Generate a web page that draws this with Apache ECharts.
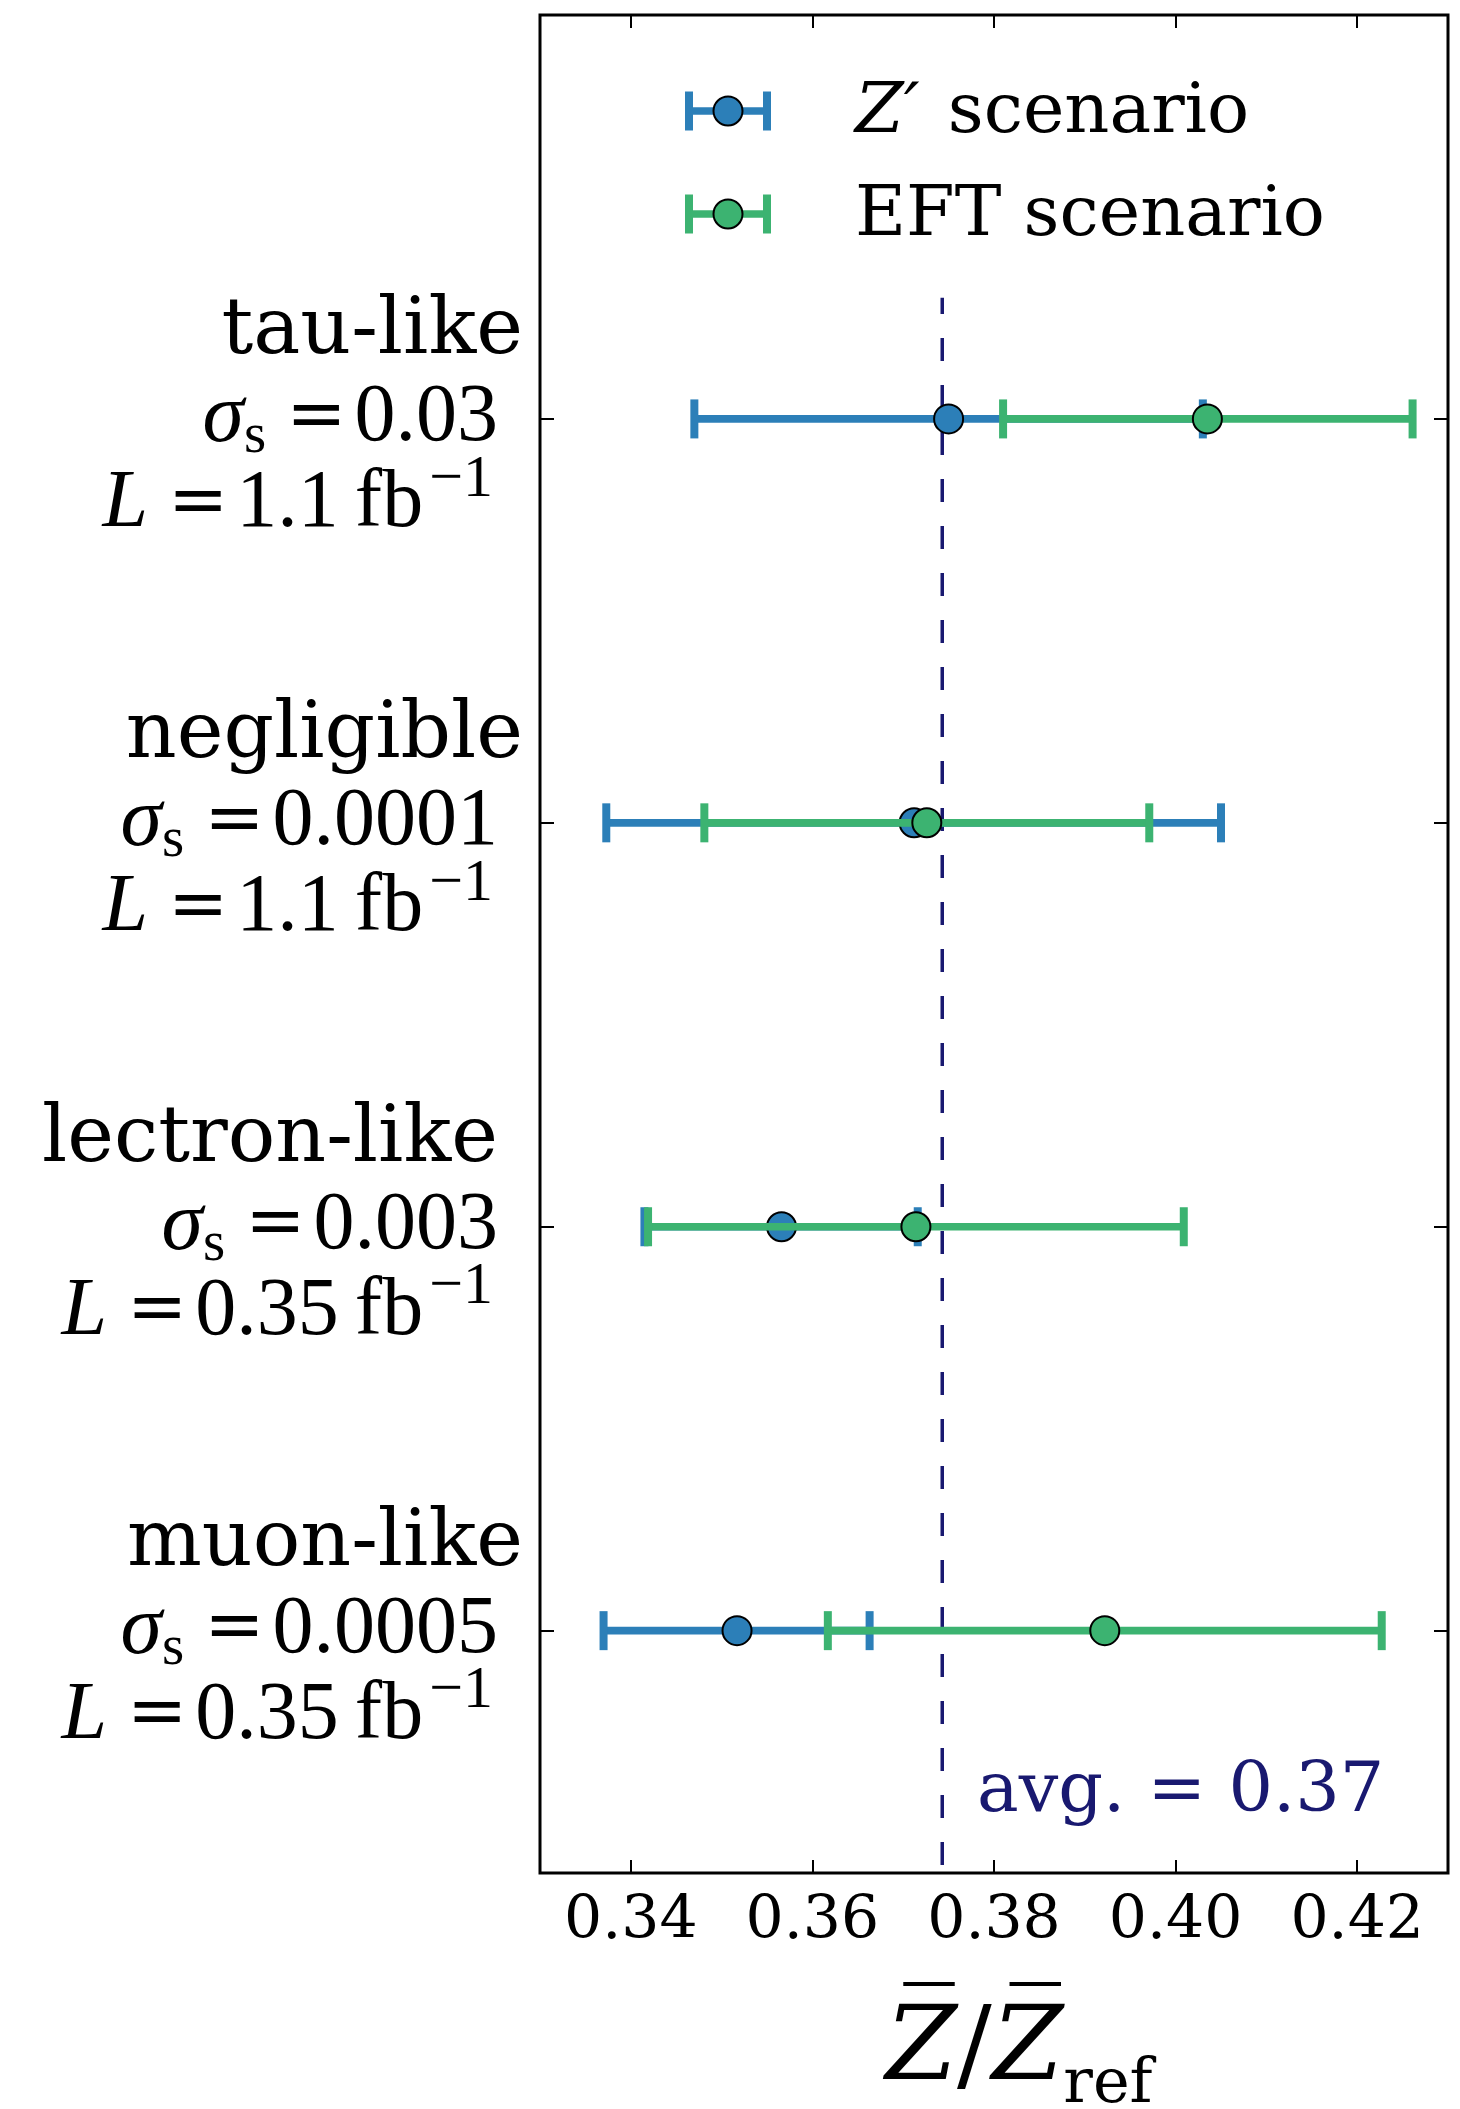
<!DOCTYPE html>
<html><head><meta charset="utf-8">
<script src="https://cdn.jsdelivr.net/npm/echarts@6/dist/echarts.min.js"></script>
<style>html,body{margin:0;padding:0;background:#fff}#c{width:1460px;height:2109px}</style>
</head><body><div id="c"></div>
<script>
// ---- data (bottom to top: y = 0..3) ----
const categories   = ['muon-like', 'lectron-like', 'negligible', 'tau-like'];
const sigmaLabels  = ['0.0005', '0.003', '0.0001', '0.03'];
const lumiLabels   = ['0.35', '0.35', '1.1', '1.1'];
const zprimeCenter = [0.3517, 0.3566, 0.3712, 0.3750];
const zprimeLow    = [0.3370, 0.3415, 0.3373, 0.3470];
const zprimeHigh   = [0.3663, 0.3716, 0.4050, 0.4030];
const eftCenter    = [0.3922, 0.3714, 0.3726, 0.4035];
const eftLow       = [0.3617, 0.3419, 0.3481, 0.3810];
const eftHigh      = [0.4227, 0.4009, 0.3971, 0.4261];
const avgValue     = 0.3743;
const avgLineY     = [-0.6, 3.3];
const xTickValues  = [0.34, 0.36, 0.38, 0.40, 0.42];
const yTickValues  = [0, 1, 2, 3];
const seriesNames  = ['Z′ scenario', 'EFT scenario'];

const BLUE = '#2c7fb8', GREEN = '#3cb371', NAVY = '#191970';
const SERIF = 'DejaVu Serif', MATH = 'Liberation Serif';

function rows(c, lo, hi) { return c.map((v, i) => [v, yTickValues[i], lo[i], hi[i]]); }

const CAP = 19.5, BARW = 7.6, CAPW = 8;
function errRender(color) {
  return function (params, api) {
    const c = api.value(0), y = api.value(1), lo = api.value(2), hi = api.value(3);
    const pL = api.coord([lo, y]), pH = api.coord([hi, y]), pC = api.coord([c, y]);
    return { type: 'group', children: [
      { type: 'line', shape: { x1: pL[0], y1: pL[1], x2: pH[0], y2: pH[1] }, style: { stroke: color, lineWidth: BARW } },
      { type: 'line', shape: { x1: pL[0], y1: pL[1] - CAP, x2: pL[0], y2: pL[1] + CAP }, style: { stroke: color, lineWidth: CAPW } },
      { type: 'line', shape: { x1: pH[0], y1: pH[1] - CAP, x2: pH[0], y2: pH[1] + CAP }, style: { stroke: color, lineWidth: CAPW } },
      { type: 'circle', shape: { cx: pC[0], cy: pC[1], r: 14.5 }, style: { fill: color, stroke: '#000', lineWidth: 2 } }
    ]};
  };
}

function legendRow(y, color, label) {
  return { type: 'group', children: [
    { type: 'line', shape: { x1: 689, y1: y, x2: 767, y2: y }, style: { stroke: color, lineWidth: BARW } },
    { type: 'line', shape: { x1: 689, y1: y - CAP, x2: 689, y2: y + CAP }, style: { stroke: color, lineWidth: CAPW } },
    { type: 'line', shape: { x1: 767, y1: y - CAP, x2: 767, y2: y + CAP }, style: { stroke: color, lineWidth: CAPW } },
    { type: 'circle', shape: { cx: 728, cy: y, r: 14.5 }, style: { fill: color, stroke: '#000', lineWidth: 2 } },
    { type: 'text', x: 855, y: y + 3, style: { text: label, rich: {
        zi: { fontFamily: SERIF, fontStyle: 'italic', fontSize: 70, fill: '#000', padding: [0, 6, 0, 0] },
        n:  { fontFamily: SERIF, fontSize: 70, fill: '#000' } },
      verticalAlign: 'middle', align: 'left' } }
  ]};
}

const LH = 86;
const yRich = {
  t:   { fontFamily: SERIF, fontSize: 79, lineHeight: LH, color: '#000' },
  t2:  { fontFamily: SERIF, fontSize: 79, lineHeight: LH, padding: [0, 25, 0, 0], color: '#000' },
  sg:  { fontFamily: MATH, fontStyle: 'italic', fontSize: 84, lineHeight: LH, color: '#000' },
  sb:  { fontFamily: MATH, fontSize: 57, lineHeight: LH, padding: [36, 0, 0, 0], color: '#000' },
  eq:  { fontFamily: SERIF, fontSize: 72, lineHeight: LH, padding: [0, 8, 0, 20], color: '#000' },
  num: { fontFamily: MATH, fontSize: 82, lineHeight: LH, padding: [0, 25, 0, 0], color: '#000' },
  li:  { fontFamily: MATH, fontStyle: 'italic', fontSize: 82, lineHeight: LH, color: '#000' },
  num2:{ fontFamily: MATH, fontSize: 82, lineHeight: LH, padding: [0, 16, 0, 0], color: '#000' },
  fb:  { fontFamily: MATH, fontSize: 82, lineHeight: LH, color: '#000' },
  sp:  { fontFamily: MATH, fontSize: 60, lineHeight: LH, padding: [0, 30, 50, 6], color: '#000' }
};

const chart = echarts.init(document.getElementById('c'), null, { renderer: 'canvas' });
chart.setOption({
  backgroundColor: '#fff',
  animation: false,
  grid: { left: 540, right: 12, top: 15, bottom: 236, outerBoundsMode: 'none', containLabel: false,
    show: true, borderColor: '#000', borderWidth: 3, backgroundColor: 'transparent' },
  xAxis: [{
    type: 'value', min: 0.33, max: 0.43, position: 'bottom',
    axisLine: { show: false, onZero: false }, splitLine: { show: false },
    axisTick: { inside: true, length: 13, lineStyle: { color: '#000', width: 2 }, customValues: xTickValues },
    axisLabel: { customValues: xTickValues, formatter: v => v.toFixed(2), margin: 19,
      fontFamily: SERIF, fontSize: 60, color: '#000' },
    name: '{z|Z\u0305}{sl|/}{z|Z\u0305}{r|ref}', nameLocation: 'middle', nameGap: 124,
    nameTextStyle: { padding: [0, 0, 0, 50], rich: {
      z:  { fontFamily: SERIF, fontStyle: 'italic', fontSize: 103, lineHeight: 110, color: '#000' },
      sl: { fontFamily: SERIF, fontSize: 103, lineHeight: 110, color: '#000' },
      r:  { fontFamily: SERIF, fontSize: 62, lineHeight: 110, padding: [68, 0, 0, 0], color: '#000' } } }
  }, {
    type: 'value', min: 0.33, max: 0.43, position: 'top',
    axisLine: { show: false, onZero: false }, splitLine: { show: false }, axisLabel: { show: false },
    axisTick: { inside: true, length: 13, lineStyle: { color: '#000', width: 2 }, customValues: xTickValues }
  }],
  yAxis: [{
    type: 'value', min: -0.6, max: 4, position: 'left',
    axisLine: { show: false, onZero: false }, splitLine: { show: false },
    axisTick: { inside: true, length: 14, lineStyle: { color: '#000', width: 2 }, customValues: yTickValues },
    axisLabel: { customValues: yTickValues, margin: 17, align: 'right', verticalAlign: 'middle',
      formatter: function (v) {
        const i = Math.round(v);
        const tk = categories[i] === 'lectron-like' ? 't2' : 't';
        return '{' + tk + '|' + categories[i] + '}\n{sg|σ}{sb|s}{eq|=}{num|' + sigmaLabels[i] + '}\n' +
               '{li|L}{eq|=}{num2|' + lumiLabels[i] + '}{fb|fb}{sp|−1}';
      },
      rich: yRich }
  }, {
    type: 'value', min: -0.6, max: 4, position: 'right',
    axisLine: { show: false, onZero: false }, splitLine: { show: false }, axisLabel: { show: false },
    axisTick: { inside: true, length: 14, lineStyle: { color: '#000', width: 2 }, customValues: yTickValues }
  }],
  series: [
    { type: 'line', name: 'avg', data: avgLineY.map(y => [avgValue, y]), symbol: 'none', silent: true,
      lineStyle: { color: NAVY, width: 3.5, type: [23, 24], dashOffset: 39 }, z: 1 },
    { type: 'custom', name: seriesNames[0], renderItem: errRender(BLUE),
      data: rows(zprimeCenter, zprimeLow, zprimeHigh), encode: { x: [0, 2, 3], y: 1 }, z: 2 },
    { type: 'custom', name: seriesNames[1], renderItem: errRender(GREEN),
      data: rows(eftCenter, eftLow, eftHigh), encode: { x: [0, 2, 3], y: 1 }, z: 3 }
  ],
  graphic: [
    legendRow(111, BLUE, '{zi|Z′}{n| scenario}'),
    legendRow(214, GREEN, '{n|EFT scenario}'),
    { type: 'text', x: 977, y: 1793, style: { text: 'avg. = ' + avgValue.toFixed(2), fontFamily: SERIF, fontSize: 70,
      fill: NAVY, verticalAlign: 'middle', align: 'left' } }
  ]
});
</script></body></html>
